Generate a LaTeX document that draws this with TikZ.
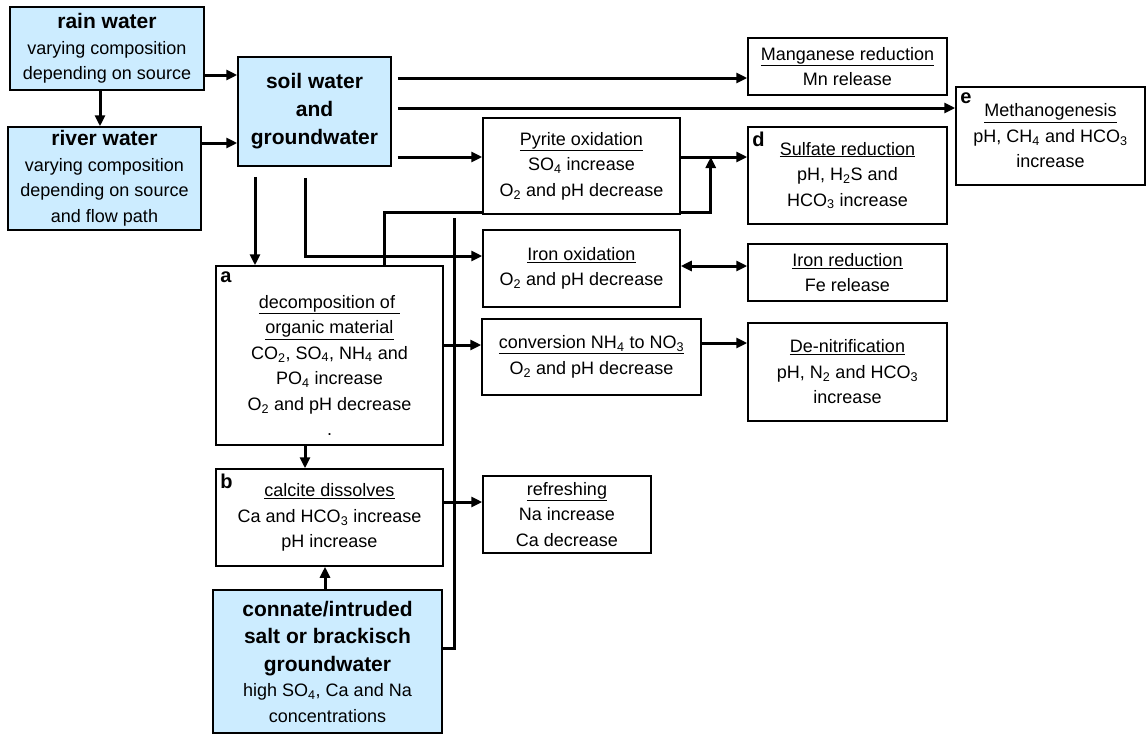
\documentclass[tikz,border=0pt]{standalone}
\usepackage{fontspec}
\setmainfont{Liberation Sans}
\usetikzlibrary{arrows.meta}

\definecolor{waterblue}{RGB}{204,236,255}
\newcommand{\su}[1]{\textsubscript{#1}}
\newcommand{\hd}[1]{{\fontsize{21}{28}\selectfont\bfseries #1}}

\tikzset{%
  every box/.style={
    draw,
    line width=1.5pt,
    fill=white,
    align=center,
    inner sep=0pt,
    font=\fontsize{18}{25.5}\selectfont
  },
  water box/.style={
    every box,
    fill=waterblue
  },
  tag/.style={
    label={[anchor=north west, inner xsep=5pt, inner ysep=6pt,
      font=\fontsize{20}{22}\selectfont\bfseries]north west:#1}
  },
  conn/.style={
    line width=3pt
  },
}

\begin{document}
\begin{tikzpicture}[x=1pt, y=-1pt, >={Triangle[length=11pt,width=10pt]}]

\useasboundingbox (0,0) rectangle (1146,734);

% water sources
\node [water box, minimum width=194pt, minimum height=83pt] (rain) at (107,48.5)
  {\hd{rain water}\\varying composition\\depending on source};
\node [water box, minimum width=193pt, minimum height=103pt] (river) at (104.5,178.5)
  {\hd{river water}\\varying composition\\depending on source\\and flow path};
\node [water box, minimum width=153pt, minimum height=109pt,
  font=\fontsize{21}{28}\selectfont\bfseries] (soil) at (314.5,111.5)
  {soil water\\and\\groundwater};
\node [water box, minimum width=229pt, minimum height=143pt] (connate) at (327.5,661.5)
  {\hd{connate/intruded}\\[2pt]\hd{salt or brackisch}\\[2pt]\hd{groundwater}\\
   high SO\su4, Ca and Na\\concentrations};

% processes
\node [every box, minimum width=199pt, minimum height=57pt] (mn) at (847.5,66.5)
  {\underline{Manganese reduction}\\Mn release};
\node [every box, tag=e, minimum width=189pt, minimum height=98pt] (methane) at (1050.5,136)
  {\underline{Methanogenesis}\\pH, CH\su4 and HCO\su3\\increase};
\node [every box, minimum width=197pt, minimum height=96pt] (pyrite) at (581.5,166)
  {\underline{Pyrite oxidation}\\SO\su4 increase\\O\su2 and pH decrease};
\node [every box, tag=d, minimum width=199pt, minimum height=97pt] (sulfate) at (847.5,175.5)
  {\underline{Sulfate reduction}\\pH, H\su2S and\\HCO\su3 increase};
\node [every box, minimum width=197pt, minimum height=77pt] (ironox) at (581.5,268.5)
  {\underline{Iron oxidation}\\O\su2 and pH decrease};
\node [every box, minimum width=199pt, minimum height=57pt] (ironred) at (847.5,272.5)
  {\underline{Iron reduction}\\Fe release};
\node [every box, tag=a, minimum width=227pt, minimum height=179pt] (decomp) at (329.5,355.5)
  {\rule{0pt}{33pt}\underline{decomposition of\ }\\\underline{organic material}\\
   CO\su2, SO\su4, NH\su4 and\\PO\su4 increase\\O\su2 and pH decrease\\.};
\node [every box, minimum width=219pt, minimum height=76pt] (nitrif) at (591.5,357)
  {\underline{conversion NH\su4 to NO\su3}\\O\su2 and pH decrease};
\node [every box, minimum width=199pt, minimum height=98pt] (denitrif) at (847.5,372)
  {\underline{De-nitrification}\\pH, N\su2 and HCO\su3\\increase};
\node [every box, tag=b, minimum width=227pt, minimum height=97pt] (calcite) at (329.5,517.5)
  {\underline{calcite dissolves}\\Ca and HCO\su3 increase\\pH increase};
\node [every box, minimum width=168pt, minimum height=77pt] (refresh) at (567,514.5)
  {\underline{refreshing}\\Na increase\\Ca decrease};

% connectors
\draw [conn, ->] ([yshift=-26.5pt]rain.east) -- ([yshift=36.5pt]soil.west);
\draw [conn, ->] ([yshift=35.5pt]river.east) -- ([yshift=-31.5pt]soil.west);
\draw [conn, ->] ([xshift=-7pt]rain.south) -- ([xshift=-4.5pt]river.north);

\draw [conn, ->] ([xshift=6pt, yshift=33.5pt]soil.east) -- ([yshift=-11.5pt]mn.west);
\draw [conn, ->] ([xshift=6pt, yshift=3.5pt]soil.east) -- ([yshift=28pt]methane.west);
\draw [conn, ->] ([xshift=6pt, yshift=-45.5pt]soil.east) -- ([yshift=9pt]pyrite.west);
\draw [conn, ->] ([yshift=9pt]pyrite.east) -- ([yshift=18.5pt]sulfate.west);

\draw [conn] ([xshift=54.5pt]decomp.north) |- ([yshift=2pt]pyrite.south west);
\draw [conn, ->] ([yshift=2pt]pyrite.south east) -| ([xshift=30pt, yshift=9pt]pyrite.east);

\draw [conn, ->] ([xshift=-59.5pt, yshift=-10pt]soil.south) -- ([xshift=-74.5pt]decomp.north);
\draw [conn, ->] ([xshift=-9.5pt, yshift=-11pt]soil.south) |- ([yshift=12.5pt]ironox.west);
\draw [conn, <->] ([yshift=2.5pt]ironox.east) -- ([yshift=6.5pt]ironred.west);

\draw [conn, ->] ([yshift=10.5pt]decomp.east) -- ([yshift=12pt]nitrif.west);
\draw [conn, ->] ([yshift=14pt]nitrif.east) -- ([yshift=29pt]denitrif.west);
\draw [conn, ->] ([xshift=-24.5pt]decomp.south) -- ([xshift=-24.5pt]calcite.north);
\draw [conn, ->] ([yshift=15.5pt]calcite.east) -- ([yshift=12.5pt]refresh.west);
\draw [conn, ->] ([xshift=-2.5pt]connate.north) -- ([xshift=-4.5pt]calcite.south);
\draw [conn] ([yshift=13.5pt]connate.east) -| ([xshift=-127.5pt, yshift=-3pt]pyrite.south);

\end{tikzpicture}
\end{document}
